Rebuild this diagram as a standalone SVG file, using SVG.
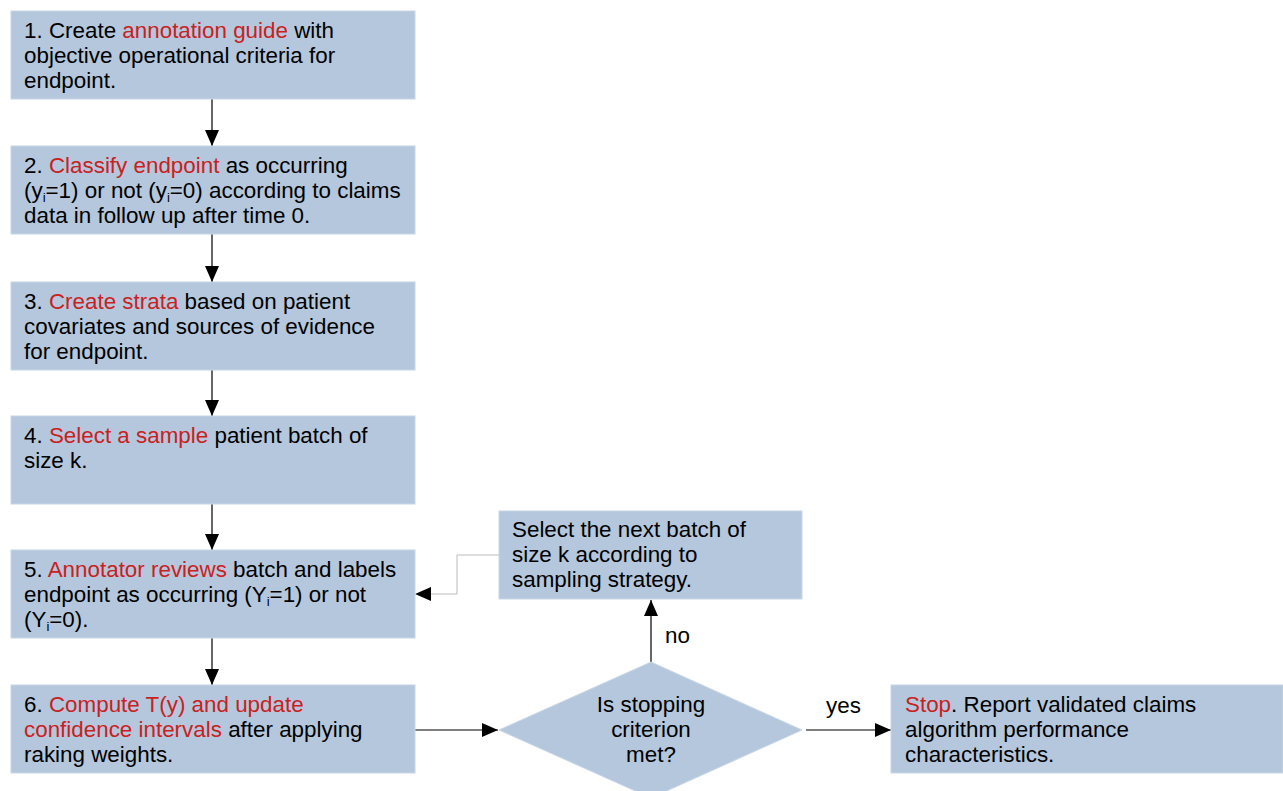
<svg xmlns="http://www.w3.org/2000/svg" width="1283" height="791" viewBox="0 0 1283 791">
<defs>
<style>
.box{fill:#b4c7dc;stroke:#c8d6e6;stroke-width:1}
text{font-family:"Liberation Sans",Arial,sans-serif;font-size:22.4px;fill:#000}
.r{fill:#c9211e}
.c{text-anchor:middle}
.sub{font-size:13px}
.ln{stroke:#000;stroke-width:1.2;fill:none}
.gl{stroke:#bbbbbb;stroke-width:1;fill:none}
</style>
<marker id="ah" markerWidth="16" markerHeight="14" refX="16" refY="7" orient="auto" markerUnits="userSpaceOnUse">
<path d="M0,0 L16,7 L0,14 Z" fill="#000"/>
</marker>
</defs>
<rect width="1283" height="791" fill="#fff"/>
<g id="connectors">
<line class="ln" x1="212" y1="99" x2="212" y2="146" marker-end="url(#ah)"/>
<line class="ln" x1="212" y1="234" x2="212" y2="282" marker-end="url(#ah)"/>
<line class="ln" x1="212" y1="370" x2="212" y2="416" marker-end="url(#ah)"/>
<line class="ln" x1="212" y1="504" x2="212" y2="550" marker-end="url(#ah)"/>
<line class="ln" x1="212" y1="638" x2="212" y2="685" marker-end="url(#ah)"/>
<line class="ln" x1="415" y1="730" x2="498" y2="730" marker-end="url(#ah)"/>
<line class="ln" x1="806" y1="730" x2="891" y2="730" marker-end="url(#ah)"/>
<line class="ln" x1="651" y1="662" x2="651" y2="600" marker-end="url(#ah)"/>
<polyline class="gl" points="499,555 457,555 457,594 430,594"/>
<path d="M415,594 L431,587 L431,601 Z" fill="#000"/>
</g>
<g id="n1">
<rect class="box" x="11" y="11" width="404" height="88"/>
<text x="24" y="38">1. Create <tspan class="r">annotation guide</tspan> with</text>
<text x="24" y="63">objective operational criteria for</text>
<text x="24" y="88">endpoint.</text>
</g>
<g id="n2">
<rect class="box" x="11" y="146" width="404" height="88"/>
<text x="24" y="173">2. <tspan class="r">Classify endpoint</tspan> as occurring</text>
<text x="24" y="198">(y<tspan class="sub" dy="4">i</tspan><tspan dy="-4">=1) or not (y</tspan><tspan class="sub" dy="4">i</tspan><tspan dy="-4">=0) according to claims</tspan></text>
<text x="24" y="223">data in follow up after time 0.</text>
</g>
<g id="n3">
<rect class="box" x="11" y="282" width="404" height="88"/>
<text x="24" y="309">3. <tspan class="r">Create strata</tspan> based on patient</text>
<text x="24" y="334">covariates and sources of evidence</text>
<text x="24" y="359">for endpoint.</text>
</g>
<g id="n4">
<rect class="box" x="11" y="416" width="404" height="88"/>
<text x="24" y="443">4. <tspan class="r">Select a sample</tspan> patient batch of</text>
<text x="24" y="468">size k.</text>
</g>
<g id="n5">
<rect class="box" x="11" y="550" width="404" height="88"/>
<text x="24" y="577">5. <tspan class="r">Annotator reviews</tspan> batch and labels</text>
<text x="24" y="602">endpoint as occurring (Y<tspan class="sub" dy="4">i</tspan><tspan dy="-4">=1) or not</tspan></text>
<text x="24" y="627">(Y<tspan class="sub" dy="4">i</tspan><tspan dy="-4">=0).</tspan></text>
</g>
<g id="n6">
<rect class="box" x="11" y="685" width="404" height="88"/>
<text x="24" y="712">6. <tspan class="r">Compute T(y) and update</tspan></text>
<text x="24" y="737"><tspan class="r">confidence intervals</tspan> after applying</text>
<text x="24" y="762">raking weights.</text>
</g>
<g id="next">
<rect class="box" x="499" y="511" width="303" height="88"/>
<text x="512" y="537">Select the next batch of</text>
<text x="512" y="562">size k according to</text>
<text x="512" y="587">sampling strategy.</text>
</g>
<g id="decision">
<polygon class="box" points="651,662 802,730 651,798 499,730"/>
<text class="c" x="651" y="712">Is stopping</text>
<text class="c" x="651" y="737">criterion</text>
<text class="c" x="651" y="762">met?</text>
</g>
<g id="stop">
<rect class="box" x="891" y="685" width="392" height="88"/>
<text x="905" y="712"><tspan class="r">Stop</tspan>. Report validated claims</text>
<text x="905" y="737">algorithm performance</text>
<text x="905" y="762">characteristics.</text>
</g>
<g id="labels">
<text x="665" y="643">no</text>
<text x="826" y="713">yes</text>
</g>
</svg>
